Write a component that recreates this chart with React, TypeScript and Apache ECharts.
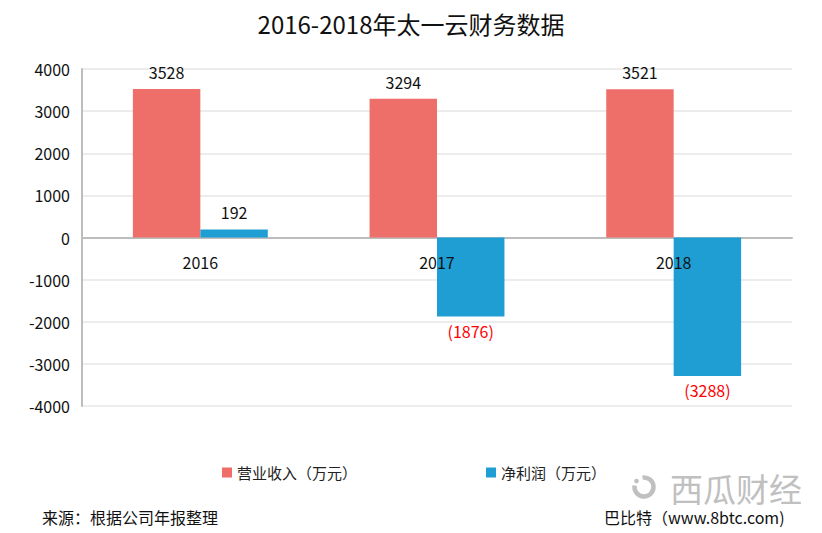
import React, { useEffect, useRef } from "react";
import * as echarts from "echarts";

const categories = ["2016", "2017", "2018"];
const revenue = [3528, 3294, 3521];
const profit = [192, -1876, -3288];
const yTicks = [-4000, -3000, -2000, -1000, 0, 1000, 2000, 3000, 4000];
const seriesNames = ["营业收入（万元）", "净利润（万元）"];
const colors = ["#EE6F6A", "#1F9ED4"];
const font = "'Noto Sans CJK SC', 'Microsoft YaHei', sans-serif";

export default function App() {
  const ref = useRef<HTMLDivElement>(null);
  useEffect(() => {
    if (!ref.current) return;
    const chart = echarts.init(ref.current, null, { renderer: "svg" });
    chart.setOption({
      animation: false,
      backgroundColor: "#ffffff",
      textStyle: { fontFamily: font },
      title: {
        text: "2016-2018年太一云财务数据",
        left: "center",
        top: 6,
        textStyle: { fontSize: 24, fontWeight: "normal", color: "#111", fontFamily: font },
      },
      legend: [
        {
          data: [seriesNames[0]],
          left: 217,
          top: 460,
          icon: "rect",
          itemWidth: 10,
          itemHeight: 10,
          itemGap: 8,
          textStyle: { fontSize: 15, color: "#222", fontFamily: font },
        },
        {
          data: [seriesNames[1]],
          left: 481,
          top: 460,
          icon: "rect",
          itemWidth: 10,
          itemHeight: 10,
          textStyle: { fontSize: 15, color: "#222", fontFamily: font },
        },
      ],
      grid: { left: 82, right: 30, top: 69, bottom: 127, containLabel: false },
      xAxis: {
        type: "category",
        data: categories,
        axisLine: { onZero: true, lineStyle: { color: "#bdbdbd", width: 2 } },
        axisTick: { show: false },
        axisLabel: { show: false },
        z: 0,
      },
      yAxis: {
        type: "value",
        min: yTicks[0],
        max: yTicks[yTicks.length - 1],
        interval: 1000,
        axisLine: { show: true, lineStyle: { color: "#bdbdbd", width: 2 } },
        axisTick: { show: false },
        axisLabel: {
          fontSize: 16,
          color: "#111",
          margin: 12,
          fontFamily: font,
          formatter: (v: number) => `${v}`,
        },
        splitLine: { lineStyle: { color: "#ececec", width: 2 } },
      },
      series: [
        {
          name: seriesNames[0],
          type: "bar",
          data: revenue,
          barGap: "0%",
          barCategoryGap: "43%",
          itemStyle: { color: colors[0] },
          label: {
            show: true,
            position: "top",
            fontSize: 16,
            color: "#111",
            distance: 9,
            fontFamily: font,
          },
          z: 2,
        },
        {
          name: seriesNames[1],
          type: "bar",
          data: profit.map((v) => ({
            value: v,
            label:
              v < 0
                ? { position: "bottom", color: "#FF0000", distance: 6 }
                : { position: "top", color: "#111", distance: 9 },
          })),
          itemStyle: { color: colors[1] },
          label: {
            show: true,
            fontSize: 16,
            fontFamily: font,
            formatter: (p: any) => (p.value < 0 ? `(${Math.abs(p.value)})` : `${p.value}`),
          },
          z: 2,
        },
        {
          name: "categoryLabels",
          type: "scatter",
          data: categories.map(() => 0),
          symbolSize: 0,
          silent: true,
          itemStyle: { color: "#111", opacity: 1 },
          label: {
            show: true,
            position: "bottom",
            distance: 16,
            fontSize: 16,
            color: "#111",
            opacity: 1,
            textBorderWidth: 0,
            fontFamily: font,
            formatter: (p: any) => p.name,
          },
          z: 5,
        },
      ],
      graphic: [
        {
          type: "text",
          left: 42,
          top: 509,
          style: { text: "来源：根据公司年报整理", fontSize: 16, fill: "#111", fontFamily: font },
        },
        {
          type: "text",
          left: 604,
          top: 509,
          style: { text: "巴比特（www.8btc.com)", fontSize: 16, fill: "#111", fontFamily: font },
        },
        {
          type: "arc",
          shape: { cx: 644, cy: 487, r: 9.5, startAngle: Math.PI * 1.45, endAngle: Math.PI * 3.05 },
          style: { stroke: "#c0c0c0", lineWidth: 4.5, fill: "none" },
        },
        {
          type: "circle",
          shape: { cx: 636.5, cy: 481, r: 2.3 },
          style: { fill: "#c0c0c0" },
        },
        {
          type: "text",
          left: 670,
          top: 471,
          style: { text: "西瓜财经", fontSize: 33, lineHeight: 30, fill: "#c0c0c0", fontFamily: font },
        },
      ],
    });
    return () => chart.dispose();
  }, []);
  return (
    <div
      ref={ref}
      style={{ position: "fixed", left: 0, top: 0, width: 822, height: 533 }}
    />
  );
}
